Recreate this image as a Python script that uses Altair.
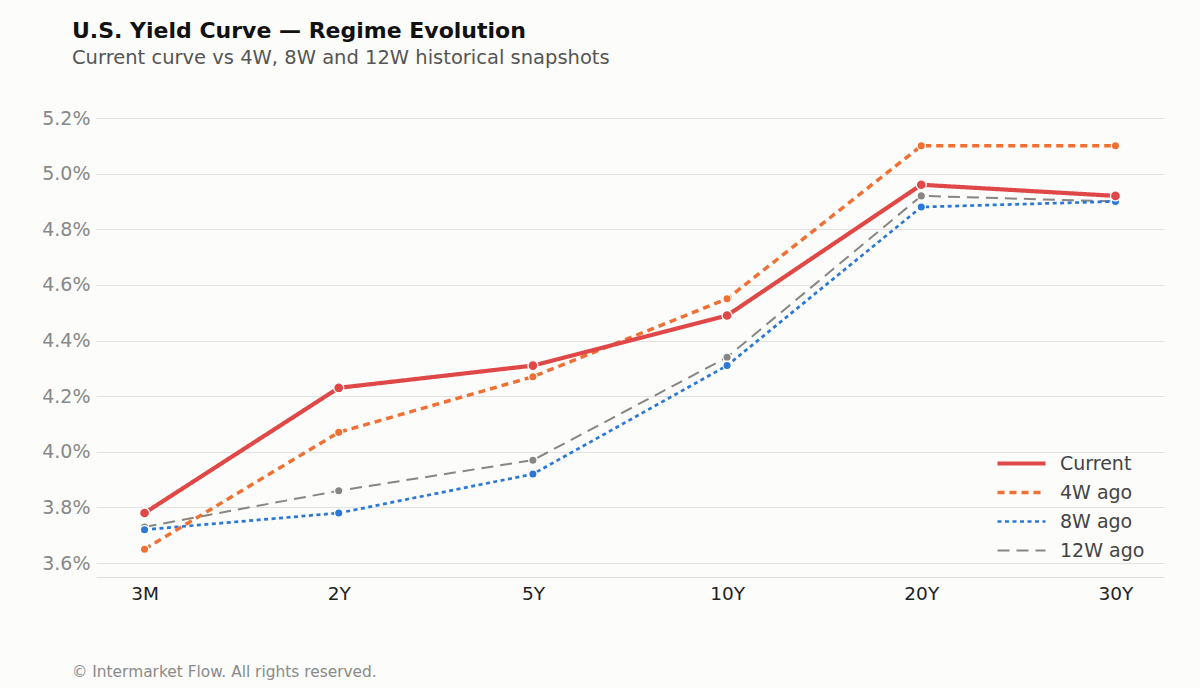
import altair as alt
import pandas as pd

# Tenors along the curve
tenors = ["3M", "2Y", "5Y", "10Y", "20Y", "30Y"]

# Yield snapshots (%)
current = [3.78, 4.23, 4.31, 4.49, 4.96, 4.92]
ago_4w = [3.65, 4.07, 4.27, 4.55, 5.10, 5.10]
ago_8w = [3.72, 3.78, 3.92, 4.31, 4.88, 4.90]
ago_12w = [3.73, 3.86, 3.97, 4.34, 4.92, 4.90]

series_names = ["Current", "4W ago", "8W ago", "12W ago"]
series_values = [current, ago_4w, ago_8w, ago_12w]
series_colors = ["#e04848", "#f07033", "#2b78d6", "#878683"]
series_dash = [[1, 0], [7, 5], [4, 3.5], [12, 7]]
series_width = [4.2, 2, 2.2, 2.2]
point_size = [100, 70, 70, 70]

rows = []
for name, vals in zip(series_names, series_values):
    for t, v in zip(tenors, vals):
        rows.append({"tenor": t, "series": name, "yield": v / 100})
df = pd.DataFrame(rows)

W, H = 1068, 459

x_enc = alt.X(
    "tenor:N",
    sort=tenors,
    scale=alt.Scale(type="point", padding=0.25),
    axis=alt.Axis(
        title=None, labelAngle=0, labelFontSize=18.5, labelColor="#222222",
        labelFont="DejaVu Sans", ticks=False, domain=True, domainColor="#dddddd",
        domainWidth=1, grid=False, labelPadding=7,
    ),
)
y_enc = alt.Y(
    "yield:Q",
    scale=alt.Scale(domain=[0.0355, 0.052], nice=False, zero=False),
    axis=alt.Axis(
        title=None, format=".1%", values=[0.036 + 0.002 * i for i in range(9)],
        labelFontSize=19, labelColor="#888888", labelFont="DejaVu Sans",
        ticks=False, domain=False, grid=True, gridColor="#e2e2e0", gridWidth=1,
        labelPadding=6,
    ),
)
color_enc = alt.Color(
    "series:N",
    scale=alt.Scale(domain=series_names, range=series_colors),
    legend=alt.Legend(
        title=None, orient="none", legendX=899, legendY=331,
        symbolType="stroke", symbolSize=2304, labelFontSize=19,
        labelColor="#444444", labelFont="DejaVu Sans", labelOffset=12,
        rowPadding=0, clipHeight=29, padding=0,
    ),
)
dash_enc = alt.StrokeDash(
    "series:N", scale=alt.Scale(domain=series_names, range=series_dash), legend=None
)
width_enc = alt.StrokeWidth(
    "series:N", scale=alt.Scale(domain=series_names, range=series_width), legend=None
)

layers = []
for i in reversed(range(len(series_names))):
    name = series_names[i]
    base = alt.Chart(df).transform_filter(alt.datum.series == name)
    line = base.mark_line(strokeCap="butt").encode(
        x=x_enc, y=y_enc, color=color_enc, strokeDash=dash_enc, strokeWidth=width_enc
    )
    pts = base.mark_point(
        filled=True, size=point_size[i], stroke="white", strokeWidth=1.3, opacity=1
    ).encode(
        x=x_enc, y=y_enc,
        fill=alt.Fill("series:N", scale=alt.Scale(domain=series_names, range=series_colors), legend=None),
    )
    layers += [line, pts]

footer = alt.Chart(pd.DataFrame({"t": ["© Intermarket Flow. All rights reserved."]})).mark_text(
    align="left", baseline="alphabetic", fontSize=15.4, color="#8a8a8a", font="DejaVu Sans"
).encode(text="t:N", x=alt.value(-24), y=alt.value(H + 100))
layers.append(footer)

chart = alt.layer(*layers).resolve_scale(fill="independent").properties(
    width=W, height=H,
    title=alt.Title(
        "U.S. Yield Curve — Regime Evolution",
        subtitle="Current curve vs 4W, 8W and 12W historical snapshots",
        anchor="start", frame="group", dx=-24, fontSize=22, font="DejaVu Sans",
        fontWeight="bold", color="#111111", subtitleFontSize=19.5,
        subtitleFont="DejaVu Sans", subtitleColor="#555555", subtitlePadding=6,
        offset=41,
    ),
    autosize=alt.AutoSizeParams(type="none"),
    padding={"left": 96, "top": 118, "right": 36, "bottom": 111},
    background="#fcfcfa",
).configure_view(stroke=None)

chart.save("out.html", embed_options={"renderer": "svg", "actions": False})
